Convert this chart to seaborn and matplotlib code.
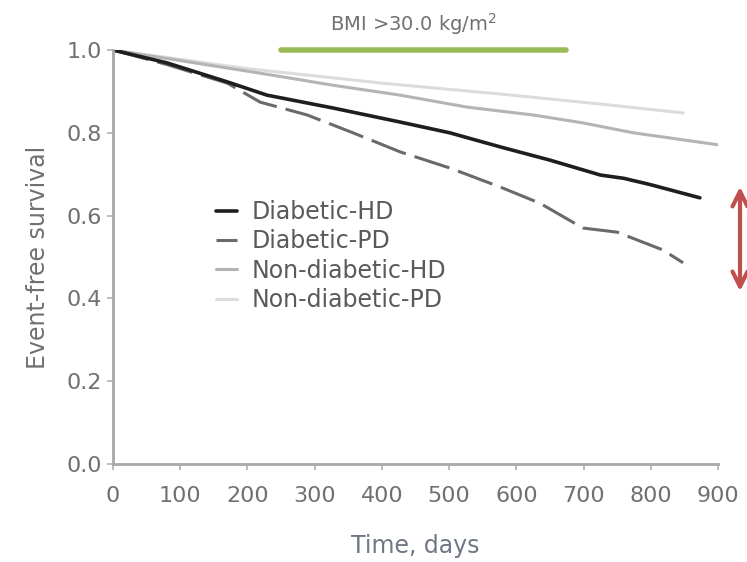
import numpy as np
import pandas as pd
import matplotlib
matplotlib.use("Agg")
import matplotlib.pyplot as plt
import seaborn as sns

# ---- data ----
dhd_days = [0, 80, 170, 229, 327, 427, 501, 576, 650, 725, 760, 799, 873]
dhd_surv = [1.0, 0.969, 0.923, 0.891, 0.860, 0.826, 0.800, 0.766, 0.734, 0.698, 0.690, 0.675, 0.643]

dpd_days = [0, 80, 170, 219, 289, 357, 427, 501, 576, 635, 699, 750, 780, 818, 848]
dpd_surv = [1.0, 0.965, 0.920, 0.874, 0.843, 0.800, 0.754, 0.715, 0.669, 0.630, 0.570, 0.560, 0.541, 0.517, 0.486]

ndhd_days = [0, 219, 327, 427, 527, 625, 699, 774, 848, 900]
ndhd_surv = [1.0, 0.944, 0.915, 0.891, 0.862, 0.843, 0.824, 0.800, 0.783, 0.771]

ndpd_days = [0, 200, 400, 600, 740, 848]
ndpd_surv = [1.0, 0.955, 0.920, 0.890, 0.867, 0.848]

groups = ["Diabetic-HD", "Diabetic-PD", "Non-diabetic-HD", "Non-diabetic-PD"]
x_ticks = [0, 100, 200, 300, 400, 500, 600, 700, 800, 900]
y_ticks = [0.0, 0.2, 0.4, 0.6, 0.8, 1.0]
title_text = "BMI >30.0 kg/m$^2$"

df = pd.concat([
    pd.DataFrame({"days": dhd_days, "surv": dhd_surv, "group": groups[0]}),
    pd.DataFrame({"days": dpd_days, "surv": dpd_surv, "group": groups[1]}),
    pd.DataFrame({"days": ndhd_days, "surv": ndhd_surv, "group": groups[2]}),
    pd.DataFrame({"days": ndpd_days, "surv": ndpd_surv, "group": groups[3]}),
], ignore_index=True)

sns.set_theme(style="white")
plt.rcParams["font.family"] = ["DejaVu Sans"]

fig = plt.figure(figsize=(7.47, 5.62), dpi=100)
ax = fig.add_axes([0.1513, 0.1744, 0.8099, 0.7366])

palette = {groups[0]: "#1e1e1e", groups[1]: "#6a6a6a",
           groups[2]: "#b4b4b4", groups[3]: "#dcdcdc"}
dashes = {groups[0]: "", groups[1]: (12, 3), groups[2]: "", groups[3]: ""}
widths = {groups[0]: 2.6, groups[1]: 2.2, groups[2]: 2.2, groups[3]: 2.2}

for g in groups[::-1]:
    sub = df[df["group"] == g]
    sns.lineplot(data=sub, x="days", y="surv", ax=ax, color=palette[g],
                 lw=widths[g], dashes=False, label=g, legend=False,
                 estimator=None, sort=True)
    line = ax.lines[-1]
    if dashes[g]:
        line.set_dashes(dashes[g])

ax.set_xlim(0, 900)
ax.set_ylim(0, 1.0)
ax.set_xticks(x_ticks)
ax.set_yticks(y_ticks)
ax.set_yticklabels([f"{v:.1f}" for v in y_ticks])

for s in ["top", "right"]:
    ax.spines[s].set_visible(False)
for s in ["left", "bottom"]:
    ax.spines[s].set_color("#a8a8a8")
    ax.spines[s].set_linewidth(2)

ax.tick_params(axis="both", which="major", direction="out", length=4,
               width=1.2, color="#b0b0b0", labelsize=16, labelcolor="#707070",
               bottom=True, left=True, pad=4)
ax.tick_params(axis="x", pad=12)

ax.set_xlabel("Time, days", fontsize=17, color="#6f7884", labelpad=20)
ax.set_ylabel("Event-free survival", fontsize=17, color="#707070", labelpad=12)

# legend
handles = {l.get_label(): l for l in ax.lines}
h = [handles[g] for g in groups]
leg = ax.legend(h, groups, loc="upper left", bbox_to_anchor=(0.155, 0.66),
                frameon=False, fontsize=17, handlelength=0.9, handletextpad=0.6,
                labelspacing=0.22, borderaxespad=0)
for t in leg.get_texts():
    t.set_color("#5a5a5a")

# title with green underline
fig.text(0.553, 0.958, title_text, ha="center", va="center", fontsize=14,
         color="#707070")
fig.add_artist(matplotlib.lines.Line2D([281 / 747, 566 / 747], [1 - 50 / 562, 1 - 50 / 562],
                                       color="#9bbb59", lw=4, transform=fig.transFigure))

# red double arrow at the right edge
ax.annotate("", xy=(740 / 747, 1 - 294 / 562), xytext=(740 / 747, 1 - 184 / 562),
            xycoords="figure fraction", textcoords="figure fraction",
            arrowprops=dict(arrowstyle="<->,head_length=0.9,head_width=0.45",
                            color="#c0504d", lw=3), annotation_clip=False)

fig.savefig("out.png", dpi=100)
